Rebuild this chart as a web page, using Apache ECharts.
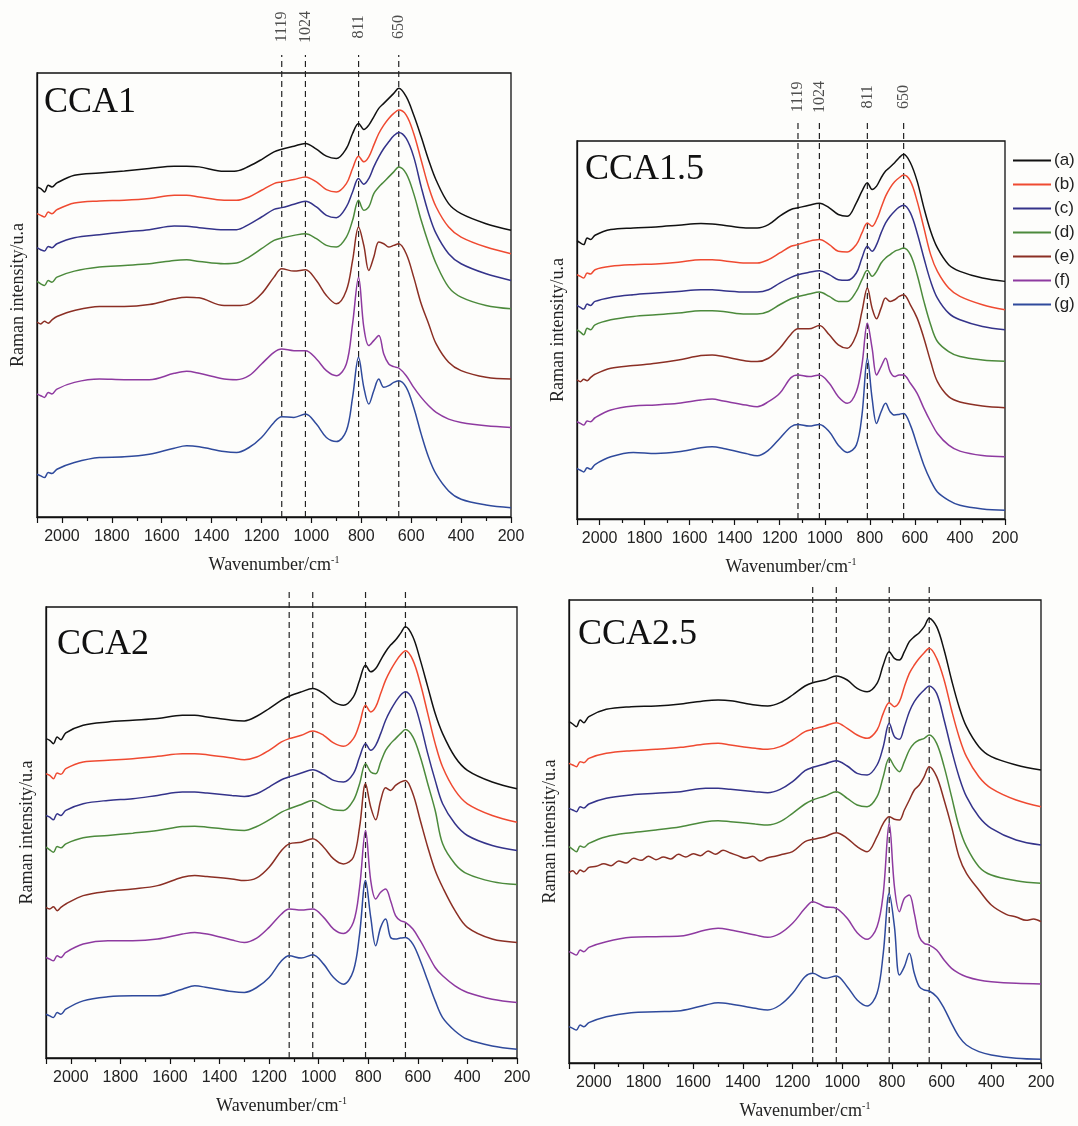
<!DOCTYPE html>
<html><head><meta charset="utf-8">
<script src="https://cdn.jsdelivr.net/npm/echarts@6/dist/echarts.min.js"></script>
<style>html,body{margin:0;padding:0;background:#fdfdfb}#c{width:1078px;height:1126px}</style>
</head><body><div id="c"></div>
<script>
// ---------------- DATA ----------------
const wavenumbers = [2100, 2085, 2070, 2055, 2040, 2020, 1950, 1850, 1750, 1650, 1550, 1500, 1450, 1350, 1300, 1250, 1200, 1150, 1119, 1070, 1024, 980, 940, 900, 860, 835, 811, 790, 770, 750, 730, 710, 690, 670, 650, 620, 590, 560, 530, 500, 450, 400, 300, 200];
const seriesNames = ['(a)', '(b)', '(c)', '(d)', '(e)', '(f)', '(g)'];
const panelNames = ['CCA1', 'CCA1.5', 'CCA2', 'CCA2.5'];
const peakPositions = [1119, 1024, 811, 650];
const peakLabels = ['1119', '1024', '811', '650'];

// CCA1 (arbitrary intensity units)
const cca1_a = [988, 983, 973, 993, 988, 1000, 1023, 1030, 1036, 1043, 1050, 1050, 1048, 1035, 1036, 1050, 1070, 1093, 1101, 1110, 1118, 1101, 1080, 1073, 1103, 1148, 1178, 1160, 1173, 1198, 1223, 1238, 1253, 1268, 1283, 1258, 1203, 1138, 1068, 1008, 938, 908, 878, 858];
const cca1_b = [908, 903, 898, 913, 908, 920, 940, 946, 948, 953, 963, 963, 958, 948, 948, 958, 978, 998, 1003, 1010, 1018, 1003, 980, 973, 998, 1043, 1080, 1063, 1078, 1113, 1148, 1173, 1193, 1208, 1218, 1203, 1148, 1068, 988, 928, 868, 838, 808, 788];
const cca1_c = [806, 800, 796, 810, 806, 818, 836, 845, 853, 860, 871, 870, 866, 860, 860, 876, 898, 921, 926, 936, 945, 928, 903, 896, 928, 973, 1013, 996, 1013, 1048, 1078, 1103, 1123, 1141, 1151, 1133, 1078, 988, 908, 848, 788, 758, 728, 708];
const cca1_d = [705, 698, 693, 708, 703, 718, 736, 748, 753, 758, 768, 770, 765, 758, 760, 778, 803, 828, 835, 843, 848, 833, 813, 808, 838, 888, 948, 918, 928, 968, 988, 1003, 1018, 1033, 1048, 1028, 968, 888, 818, 758, 688, 658, 633, 623];
const cca1_e = [583, 578, 586, 580, 590, 600, 618, 630, 630, 636, 653, 658, 656, 633, 633, 638, 668, 718, 743, 736, 740, 708, 663, 638, 678, 768, 868, 813, 738, 778, 823, 818, 808, 813, 818, 788, 718, 638, 578, 518, 463, 438, 418, 413];
const cca1_f = [368, 363, 358, 373, 368, 383, 403, 413, 411, 411, 430, 436, 430, 413, 411, 423, 458, 493, 503, 498, 498, 473, 438, 423, 458, 578, 718, 568, 513, 528, 543, 488, 458, 450, 446, 423, 388, 358, 333, 313, 293, 283, 273, 268];
const cca1_g = [128, 123, 118, 133, 130, 143, 163, 178, 180, 188, 206, 213, 210, 196, 193, 208, 238, 283, 300, 298, 308, 278, 238, 226, 258, 358, 478, 388, 338, 378, 413, 388, 393, 403, 408, 388, 328, 248, 178, 128, 78, 53, 36, 28];

// CCA1.5
const cca15_a = [833, 826, 821, 841, 836, 849, 866, 871, 874, 879, 884, 883, 879, 871, 871, 881, 906, 926, 931, 939, 945, 931, 911, 906, 946, 981, 1006, 986, 996, 1021, 1041, 1053, 1066, 1081, 1091, 1066, 1011, 931, 861, 811, 761, 741, 721, 711];
const cca15_b = [731, 726, 721, 736, 733, 746, 756, 761, 763, 768, 776, 776, 773, 766, 766, 776, 796, 816, 821, 831, 836, 821, 801, 799, 821, 856, 886, 876, 896, 931, 966, 991, 1009, 1021, 1029, 1011, 951, 871, 791, 741, 691, 666, 641, 626];
const cca15_c = [639, 633, 628, 643, 639, 651, 663, 671, 676, 681, 686, 686, 683, 679, 679, 686, 706, 723, 731, 738, 743, 731, 716, 714, 736, 781, 816, 801, 821, 856, 886, 906, 921, 933, 939, 916, 856, 781, 711, 661, 616, 596, 576, 566];
const cca15_d = [566, 559, 551, 571, 566, 581, 596, 606, 611, 616, 623, 623, 621, 613, 613, 621, 641, 659, 666, 673, 679, 666, 651, 651, 681, 716, 744, 726, 741, 766, 781, 791, 801, 806, 811, 791, 731, 651, 581, 531, 501, 486, 476, 472];
const cca15_e = [416, 411, 418, 414, 423, 433, 451, 459, 466, 476, 489, 491, 486, 473, 471, 481, 511, 553, 569, 569, 579, 551, 521, 511, 551, 621, 691, 631, 599, 631, 661, 651, 656, 666, 671, 641, 601, 541, 471, 411, 366, 350, 338, 333];
const cca15_f = [291, 286, 281, 293, 291, 303, 326, 338, 341, 346, 356, 359, 353, 341, 336, 351, 376, 423, 431, 426, 431, 406, 366, 346, 381, 461, 586, 511, 431, 456, 481, 441, 426, 431, 431, 406, 376, 331, 291, 256, 221, 203, 190, 186];
const cca15_g = [151, 146, 141, 153, 149, 163, 186, 199, 196, 201, 213, 216, 211, 196, 189, 206, 241, 276, 283, 278, 283, 261, 221, 199, 221, 311, 481, 361, 286, 321, 346, 321, 311, 313, 316, 281, 221, 161, 115, 81, 56, 41, 30, 26];

// CCA2
const cca2_a = [956, 951, 941, 961, 953, 973, 996, 1006, 1011, 1016, 1026, 1026, 1021, 1011, 1009, 1023, 1046, 1071, 1083, 1096, 1106, 1091, 1066, 1056, 1081, 1131, 1176, 1156, 1166, 1191, 1216, 1236, 1251, 1271, 1291, 1261, 1191, 1111, 1031, 971, 901, 861, 826, 806];
const cca2_b = [851, 846, 836, 853, 849, 866, 886, 891, 896, 903, 911, 911, 908, 898, 893, 901, 921, 946, 956, 966, 979, 966, 943, 933, 956, 1001, 1056, 1036, 1051, 1091, 1131, 1161, 1186, 1206, 1219, 1191, 1121, 1031, 941, 871, 801, 761, 726, 706];
const cca2_c = [726, 721, 713, 731, 726, 741, 761, 771, 776, 786, 796, 796, 793, 786, 783, 791, 811, 833, 841, 853, 863, 849, 831, 826, 851, 901, 941, 921, 936, 971, 1011, 1041, 1066, 1086, 1096, 1071, 1001, 911, 831, 761, 701, 666, 636, 621];
const cca2_d = [631, 623, 616, 633, 629, 641, 659, 666, 673, 681, 693, 694, 691, 683, 681, 693, 713, 736, 746, 759, 771, 756, 743, 741, 771, 821, 881, 856, 851, 886, 921, 941, 956, 971, 983, 961, 901, 821, 741, 641, 581, 551, 528, 519];
const cca2_e = [451, 446, 453, 441, 451, 461, 486, 499, 506, 516, 541, 546, 543, 536, 531, 539, 571, 621, 641, 646, 656, 631, 596, 581, 601, 691, 821, 751, 713, 771, 809, 801, 816, 826, 831, 791, 711, 631, 561, 511, 441, 391, 356, 346];
const cca2_f = [301, 296, 291, 306, 301, 316, 341, 351, 351, 356, 371, 376, 371, 353, 346, 359, 391, 431, 446, 443, 446, 421, 386, 373, 406, 511, 681, 531, 476, 496, 506, 471, 426, 411, 406, 386, 351, 311, 271, 246, 216, 196, 176, 166];
const cca2_g = [131, 126, 121, 136, 131, 146, 171, 183, 186, 186, 206, 216, 211, 199, 196, 211, 241, 291, 306, 299, 309, 281, 241, 221, 261, 371, 531, 421, 336, 391, 416, 361, 356, 359, 361, 341, 291, 231, 171, 121, 81, 56, 36, 26];

// CCA2.5
const cca25_a = [1024, 1017, 1009, 1029, 1021, 1039, 1061, 1069, 1071, 1077, 1087, 1089, 1087, 1074, 1071, 1081, 1104, 1131, 1141, 1149, 1161, 1149, 1124, 1114, 1139, 1194, 1234, 1214, 1209, 1234, 1264, 1279, 1291, 1309, 1334, 1309, 1239, 1149, 1069, 1009, 949, 919, 894, 879];
const cca25_b = [899, 894, 889, 904, 901, 914, 929, 937, 941, 947, 957, 959, 954, 944, 941, 949, 969, 994, 1001, 1011, 1021, 1004, 984, 974, 999, 1049, 1081, 1069, 1084, 1129, 1169, 1194, 1214, 1231, 1244, 1214, 1149, 1059, 979, 919, 859, 824, 789, 769];
const cca25_c = [764, 759, 754, 769, 765, 777, 794, 804, 809, 814, 824, 824, 821, 814, 811, 821, 844, 877, 887, 897, 907, 891, 869, 864, 894, 949, 1019, 979, 971, 1009, 1054, 1084, 1104, 1119, 1131, 1109, 1029, 939, 859, 799, 739, 704, 669, 654];
const cca25_d = [649, 641, 634, 651, 647, 659, 679, 691, 699, 709, 724, 727, 724, 717, 714, 724, 749, 777, 789, 801, 814, 794, 774, 769, 799, 859, 914, 889, 874, 904, 939, 959, 969, 974, 984, 959, 889, 799, 709, 649, 589, 564, 547, 539];
// (e) of CCA2.5 is noisy: it is read on its own, denser wavenumber list
const cca25_e_wavenumbers = [2100, 2085, 2070, 2055, 2040, 2020, 1990, 1960, 1930, 1900, 1870, 1840, 1810, 1780, 1750, 1720, 1690, 1660, 1630, 1600, 1570, 1540, 1510, 1480, 1450, 1420, 1390, 1360, 1330, 1300, 1270, 1240, 1200, 1150, 1119, 1070, 1024, 980, 940, 900, 860, 835, 811, 790, 770, 750, 730, 710, 690, 670, 650, 620, 590, 560, 530, 500, 450, 400, 340, 300, 260, 230, 200];
const cca25_e = [571, 577, 567, 579, 574, 587, 590, 598, 592, 606, 600, 614, 608, 620, 610, 618, 612, 626, 618, 628, 622, 636, 626, 638, 630, 622, 614, 620, 606, 616, 620, 626, 634, 664, 671, 679, 691, 674, 649, 634, 679, 719, 739, 731, 729, 759, 789, 819, 834, 859, 889, 859, 789, 709, 619, 569, 519, 474, 446, 438, 428, 432, 424];
const cca25_f = [334, 329, 324, 339, 334, 347, 364, 377, 379, 381, 399, 404, 399, 384, 377, 389, 419, 464, 484, 469, 464, 434, 391, 371, 409, 509, 719, 529, 454, 494, 504, 449, 379, 359, 354, 339, 309, 284, 269, 259, 249, 244, 239, 237];
const cca25_g = [109, 104, 99, 114, 109, 121, 139, 151, 154, 157, 174, 181, 177, 164, 159, 174, 209, 259, 269, 254, 261, 229, 189, 171, 209, 329, 509, 409, 264, 289, 329, 269, 229, 219, 216, 199, 164, 119, 79, 54, 34, 24, 14, 11];

const panelData = [
  [cca1_a, cca1_b, cca1_c, cca1_d, cca1_e, cca1_f, cca1_g],
  [cca15_a, cca15_b, cca15_c, cca15_d, cca15_e, cca15_f, cca15_g],
  [cca2_a, cca2_b, cca2_c, cca2_d, cca2_e, cca2_f, cca2_g],
  [cca25_a, cca25_b, cca25_c, cca25_d, cca25_e, cca25_f, cca25_g]
];
const panelWavenumbers = [
  [wavenumbers, wavenumbers, wavenumbers, wavenumbers, wavenumbers, wavenumbers, wavenumbers],
  [wavenumbers, wavenumbers, wavenumbers, wavenumbers, wavenumbers, wavenumbers, wavenumbers],
  [wavenumbers, wavenumbers, wavenumbers, wavenumbers, wavenumbers, wavenumbers, wavenumbers],
  [wavenumbers, wavenumbers, wavenumbers, wavenumbers, cca25_e_wavenumbers, wavenumbers, wavenumbers]
];

// ---------------- LAYOUT / STYLE ----------------
const colors = ['#111111', '#ef4a31', '#34338a', '#4c8a3c', '#8b2f24', '#8e3aa0', '#2f4a9c'];
const layout = [
  { left: 37, top: 73, width: 474, height: 444, ymax: 1329, guideTop: 1383, labelAt: 1467, tx: 44, ty: 85 },
  { left: 577, top: 141, width: 428, height: 378, ymax: 1131, guideTop: 1188, labelAt: 1263, tx: 585, ty: 152 },
  { left: 46, top: 607, width: 471, height: 451, ymax: 1350, guideTop: 1407, labelAt: null, tx: 57, ty: 627 },
  { left: 569, top: 600, width: 472, height: 463, ymax: 1389, guideTop: 1440, labelAt: null, tx: 578, ty: 617 }
];
const serif = '"Liberation Serif", "Times New Roman", serif';
const sans = '"Liberation Sans", Arial, sans-serif';

const grids = [], xAxes = [], yAxes = [], series = [], graphics = [];
layout.forEach((L, p) => {
  grids.push({ left: L.left, top: L.top, width: L.width, height: L.height, show: true,
    borderColor: '#111', borderWidth: 1.3, backgroundColor: 'transparent' });
  xAxes.push({ gridIndex: p, type: 'value', min: 200, max: 2100, interval: 200, inverse: true,
    axisLine: { show: true, lineStyle: { color: '#111', width: 1.3 } },
    axisTick: { show: true, inside: false, length: 6, lineStyle: { color: '#111', width: 1.2 } },
    minorTick: { show: true, splitNumber: 2, length: 4, lineStyle: { color: '#111', width: 1.2 } },
    splitLine: { show: false }, minorSplitLine: { show: false },
    axisLabel: { show: true, margin: 12, fontFamily: sans, fontSize: 16, color: '#222',
      formatter: (v) => String(v) },
    name: 'Wavenumber/cm{sup|-1}', nameLocation: 'middle', nameGap: 38,
    nameTextStyle: { fontFamily: serif, fontSize: 18, color: '#222', lineHeight: 20,
      rich: { sup: { fontFamily: serif, fontSize: 10, color: '#222', verticalAlign: 'top', lineHeight: 20 } } }
  });
  yAxes.push({ gridIndex: p, type: 'value', min: 0, max: L.ymax,
    axisLine: { show: true, lineStyle: { color: '#111', width: 1.3 } },
    axisTick: { show: false }, axisLabel: { show: false }, splitLine: { show: false },
    name: 'Raman intensity/u.a', nameLocation: 'middle', nameGap: 10,
    nameTextStyle: { fontFamily: serif, fontSize: 18, color: '#222' }
  });
  panelData[p].forEach((vals, i) => {
    const wn = panelWavenumbers[p][i];
    series.push({ name: seriesNames[i], type: 'line', xAxisIndex: p, yAxisIndex: p,
      data: wn.map((w, k) => [w, vals[k]]),
      showSymbol: false, symbol: 'none', smooth: 0.35,
      lineStyle: { color: colors[i], width: 1.5 }, itemStyle: { color: colors[i] },
      z: 3, silent: true });
  });
  peakPositions.forEach((w) => {
    series.push({ name: 'guide', type: 'line', xAxisIndex: p, yAxisIndex: p, clip: false,
      data: [[w, 0], [w, L.guideTop]], showSymbol: false, symbol: 'none',
      lineStyle: { color: '#222', width: 1.2, type: [6, 4] }, z: 2, silent: true });
  });
  if (L.labelAt !== null) {
    series.push({ name: 'guideLabel', type: 'scatter', xAxisIndex: p, yAxisIndex: p, clip: false,
      symbolSize: 0, silent: true,
      data: peakPositions.map((w, k) => ({ value: [w, L.labelAt], name: peakLabels[k] })),
      label: { show: true, position: 'inside', rotate: 90, formatter: '{b}',
        fontFamily: serif, fontSize: 16, color: '#222' } });
  }
  graphics.push({ type: 'text', left: L.tx, top: L.ty,
    style: { text: panelNames[p], font: '36px ' + serif, fill: '#111' } });
});

const chart = echarts.init(document.getElementById('c'), null, { renderer: 'canvas' });
chart.setOption({
  backgroundColor: '#fdfdfb',
  animation: false,
  grid: grids, xAxis: xAxes, yAxis: yAxes, series: series, graphic: graphics,
  legend: { data: seriesNames, orient: 'vertical', left: 1008, top: 147,
    icon: 'rect', itemWidth: 38, itemHeight: 2, itemGap: 7,
    textStyle: { fontFamily: sans, fontSize: 17, color: '#222', padding: [0, 0, 0, -2] } }
});
</script>
</body></html>
